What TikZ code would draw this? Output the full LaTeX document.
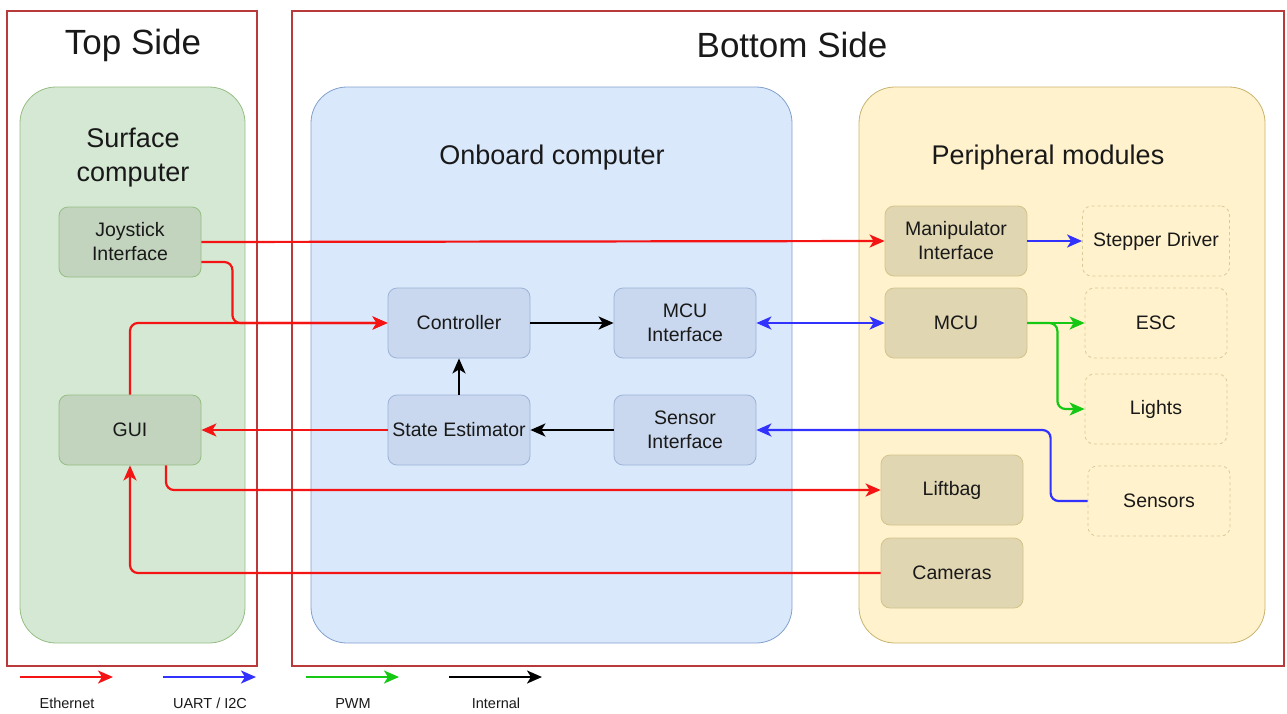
\documentclass[tikz,border=0pt]{standalone}
\usepackage{fontspec}
\setmainfont{Liberation Sans}
\usetikzlibrary{arrows.meta}

\definecolor{framered}{RGB}{184,58,58}
\definecolor{ethred}{RGB}{245,20,20}
\definecolor{uartblue}{RGB}{50,50,255}
\definecolor{pwmgreen}{RGB}{20,200,20}
\definecolor{surffill}{RGB}{213,232,212}
\definecolor{surfline}{RGB}{150,190,130}
\definecolor{surfbox}{RGB}{194,212,190}
\definecolor{obfill}{RGB}{218,232,252}
\definecolor{obline}{RGB}{130,160,205}
\definecolor{obbox}{RGB}{201,216,238}
\definecolor{perfill}{RGB}{255,242,204}
\definecolor{perline}{RGB}{200,180,110}
\definecolor{perbox}{RGB}{224,214,178}
\definecolor{txt}{RGB}{25,25,25}

\begin{document}
\begin{tikzpicture}[x=1pt,y=-1pt,
    sidebox/.style={draw=framered, line width=2pt},
    group/.style={rounded corners=36pt, line width=0.8pt},
    grouptitle/.style={text=txt, align=center, font=\fontsize{27}{34}\selectfont},
    unit/.style={rectangle, rounded corners=9pt, minimum width=142pt, minimum height=70pt,
        align=center, text=txt, line width=0.8pt, font=\fontsize{19.5}{24}\selectfont},
    ext/.style={unit, draw=perline!70, dashed, dash pattern=on 3pt off 3pt, fill=none},
    link/.style={line width=2.2pt, rounded corners=8pt, -{Stealth[length=15pt,width=13pt,inset=4pt]}}
]
\useasboundingbox (0,0) rectangle (1287,713);

% sides
\draw[sidebox] (7,11) rectangle (257,666);
\draw[sidebox] (292,11) rectangle (1284,666);
\node[text=txt, font=\fontsize{35}{40}\selectfont] (topside) at (133,45) {Top Side};
\node[text=txt, font=\fontsize{35}{40}\selectfont] (botside) at (792,45) {Bottom Side};

% groups
\draw[group, fill=surffill, draw=surfline] (20,87) rectangle (245,643);
\draw[group, fill=obfill, draw=obline] (311,87) rectangle (792,643);
\draw[group, fill=perfill, draw=perline] (859,87) rectangle (1265,643);
\node[grouptitle] (surftitle) at (133,158) {Surface\\computer};
\node[grouptitle] (obtitle) at (552,158) {Onboard computer};
\node[grouptitle] (pertitle) at (1048,158) {Peripheral modules};

% surface computer
\node[unit, fill=surfbox, draw=surfline] (joy) at (130,242) {Joystick\\Interface};
\node[unit, fill=surfbox, draw=surfline] (gui) at (130,430) {GUI};

% onboard computer
\node[unit, fill=obbox, draw=obline!80] (ctrl) at (459,323) {Controller};
\node[unit, fill=obbox, draw=obline!80] (est) at (459,430) {State Estimator};
\node[unit, fill=obbox, draw=obline!80] (mcuif) at (685,323) {MCU\\Interface};
\node[unit, fill=obbox, draw=obline!80] (sensif) at (685,430) {Sensor\\Interface};

% peripheral modules
\node[unit, fill=perbox, draw=perline!80] (manip) at (956,241) {Manipulator\\Interface};
\node[unit, fill=perbox, draw=perline!80] (mcu) at (956,323) {MCU};
\node[unit, fill=perbox, draw=perline!80] (lift) at (952,490) {Liftbag};
\node[unit, fill=perbox, draw=perline!80] (cam) at (952,573) {Cameras};
\node[ext, minimum width=147pt] (stepper) at (1156,241) {Stepper Driver};
\node[ext] (esc) at (1156,323) {ESC};
\node[ext] (lights) at (1156,409) {Lights};
\node[ext] (sensors) at (1159,501) {Sensors};

% ethernet
\draw[link, ethred] (joy.east) -- (manip.west);
\draw[link, ethred] ([yshift=-20pt]joy.east) -- ++(31,0) |- (ctrl.west);
\draw[link, ethred] (gui.north) |- (ctrl.west);
\draw[link, ethred] (est.west) -- (gui.east);
\draw[link, ethred] ([xshift=36pt]gui.south) |- (lift.west);
\draw[link, ethred] (cam.west) -| (gui.south);

% uart / i2c
\draw[link, uartblue, {Stealth[length=15pt,width=13pt,inset=4pt]}-{Stealth[length=15pt,width=13pt,inset=4pt]}] (mcuif.east) -- (mcu.west);
\draw[link, uartblue] (manip.east) -- (stepper.west);
\draw[link, uartblue] (sensors.west) -- ++(-37,0) |- (sensif.east);

% pwm
\draw[link, pwmgreen] (mcu.east) -- (esc.west);
\draw[link, pwmgreen] (mcu.east) -- ++(30,0) |- (lights.west);

% internal
\draw[link, black] (ctrl.east) -- (mcuif.west);
\draw[link, black] (est.north) -- (ctrl.south);
\draw[link, black] (sensif.west) -- (est.east);

% legend
\foreach \c/\t [count=\i from 0] in {ethred/Ethernet, uartblue/{UART / I2C}, pwmgreen/PWM, black/Internal} {
    \coordinate (leg\i a) at (20+143*\i,677);
    \coordinate (leg\i b) at (113+143*\i,677);
    \draw[link, \c] (leg\i a) -- (leg\i b);
    \node[text=txt, font=\fontsize{14.5}{16}\selectfont] (legtxt\i) at (67+143*\i,703) {\t};
}
\end{tikzpicture}
\end{document}
